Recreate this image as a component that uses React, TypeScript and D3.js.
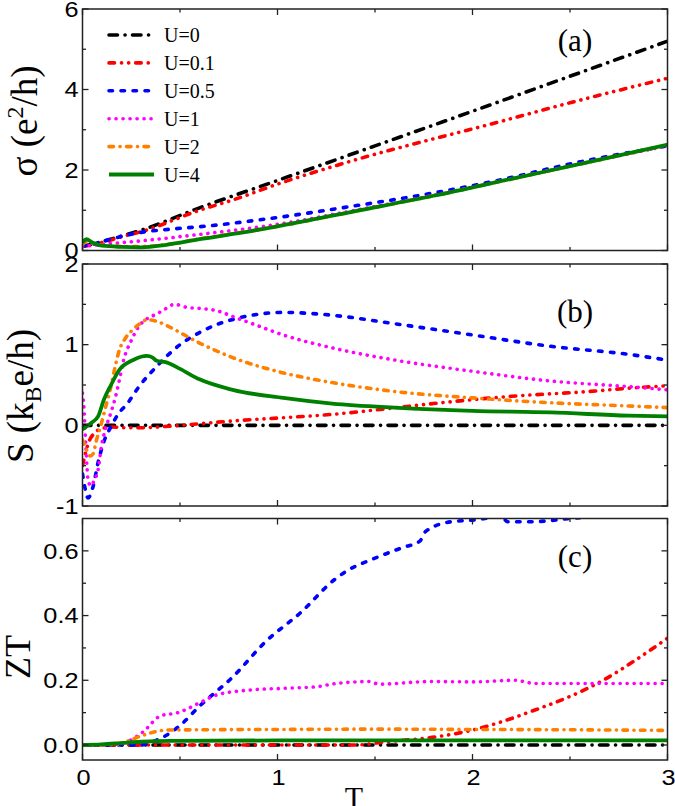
import React, { useRef, useEffect } from 'react';
import * as d3 from 'd3';

type Pt = [number, number];

const width = 675;
const height = 806;

// legend + panel tags
const legendLabels = ['U=0', 'U=0.1', 'U=0.5', 'U=1', 'U=2', 'U=4'];
const panelTags = ['(a)', '(b)', '(c)'];
const tempTicks = [0, 1, 2, 3];
const tempMinor = [0.5, 1.5, 2.5];

// (a) conductance sigma, [T, value]
const sigmaU0: Pt[] = [[0, 0.1], [0.1, 0.22], [0.2, 0.36], [0.31, 0.52], [0.6, 1.06], [1.0, 1.74], [1.5, 2.6], [2.0, 3.46], [2.5, 4.33], [3.0, 5.2]];
const sigmaU01: Pt[] = [[0, 0.1], [0.1, 0.2], [0.2, 0.34], [0.31, 0.48], [0.6, 1.0], [0.78, 1.27], [1.0, 1.65], [1.37, 2.21], [2.14, 3.2], [2.5, 3.67], [3.0, 4.28]];
const sigmaU05: Pt[] = [[0, 0.12], [0.05, 0.15], [0.1, 0.22], [0.2, 0.35], [0.3, 0.45], [0.45, 0.53], [0.6, 0.59], [1.0, 0.82], [1.37, 1.09], [1.8, 1.43], [2.14, 1.75], [2.5, 2.15], [3.0, 2.6]];
const sigmaU1: Pt[] = [[0, 0.1], [0.1, 0.15], [0.3, 0.24], [0.6, 0.4], [1.0, 0.65], [1.4, 1.0], [1.8, 1.37], [2.2, 1.78], [2.6, 2.2], [3.0, 2.6]];
const sigmaU2: Pt[] = [[0, 0.15], [0.02, 0.22], [0.05, 0.18], [0.1, 0.13], [0.2, 0.1], [0.3, 0.1], [0.45, 0.16], [0.6, 0.29], [0.8, 0.44], [1.0, 0.6], [1.4, 0.98], [1.8, 1.36], [2.2, 1.78], [2.6, 2.2], [3.0, 2.62]];
const sigmaU4: Pt[] = [[0, 0.2], [0.02, 0.28], [0.05, 0.2], [0.1, 0.12], [0.2, 0.09], [0.3, 0.08], [0.43, 0.14], [0.6, 0.28], [0.8, 0.43], [1.0, 0.6], [1.4, 0.98], [1.8, 1.36], [2.2, 1.78], [2.6, 2.2], [3.0, 2.63]];

// (b) Seebeck S
const seebeckU0: Pt[] = [[0, 0], [0.5, 0], [1, 0], [1.5, 0], [2, 0], [2.5, 0], [3, 0]];
const seebeckU01: Pt[] = [[0, -0.5], [0.015, -0.35], [0.03, -0.22], [0.06, -0.1], [0.1, -0.04], [0.15, -0.02], [0.22, -0.03], [0.3, -0.03], [0.45, -0.01], [0.6, 0.02], [0.8, 0.06], [1.0, 0.09], [1.3, 0.14], [1.5, 0.19], [1.8, 0.27], [2.2, 0.36], [2.6, 0.42], [2.8, 0.46], [3.0, 0.49]];
const seebeckU05: Pt[] = [[0, -0.6], [0.015, -0.8], [0.028, -0.9], [0.054, -0.76], [0.08, -0.46], [0.11, -0.2], [0.15, 0], [0.18, 0.13], [0.23, 0.27], [0.29, 0.48], [0.38, 0.73], [0.5, 1.0], [0.6, 1.15], [0.69, 1.25], [0.8, 1.33], [0.91, 1.38], [1.03, 1.4], [1.15, 1.39], [1.3, 1.36], [1.6, 1.26], [2.0, 1.12], [2.4, 0.98], [2.8, 0.88], [2.97, 0.82]];
const seebeckU1: Pt[] = [[0, 0.4], [0.008, 0.2], [0.018, -0.3], [0.03, -0.7], [0.045, -0.75], [0.06, -0.68], [0.08, -0.55], [0.097, -0.26], [0.12, -0.03], [0.146, 0.16], [0.17, 0.36], [0.19, 0.57], [0.21, 0.8], [0.25, 1.05], [0.29, 1.23], [0.33, 1.32], [0.38, 1.38], [0.43, 1.45], [0.47, 1.5], [0.54, 1.46], [0.6, 1.45], [0.69, 1.42], [0.78, 1.34], [0.86, 1.27], [1.03, 1.12], [1.28, 0.96], [1.6, 0.81], [2.0, 0.67], [2.4, 0.55], [2.8, 0.48], [3.0, 0.44]];
const seebeckU2: Pt[] = [[0, -0.18], [0.02, -0.3], [0.04, -0.38], [0.055, -0.35], [0.07, -0.2], [0.095, 0.01], [0.12, 0.24], [0.14, 0.42], [0.165, 0.7], [0.19, 0.94], [0.22, 1.08], [0.26, 1.19], [0.3, 1.27], [0.33, 1.31], [0.38, 1.29], [0.43, 1.24], [0.47, 1.19], [0.6, 1.02], [0.77, 0.84], [1.03, 0.65], [1.28, 0.53], [1.6, 0.42], [2.0, 0.34], [2.4, 0.28], [2.8, 0.24], [3.0, 0.22]];
const seebeckU4: Pt[] = [[0, -0.05], [0.045, 0.03], [0.08, 0.11], [0.11, 0.32], [0.146, 0.5], [0.19, 0.69], [0.26, 0.81], [0.3, 0.85], [0.33, 0.86], [0.36, 0.84], [0.38, 0.8], [0.43, 0.78], [0.5, 0.7], [0.6, 0.57], [0.77, 0.44], [1.03, 0.34], [1.28, 0.27], [1.6, 0.22], [2.0, 0.18], [2.4, 0.16], [2.8, 0.12], [3.0, 0.11]];

// (c) figure of merit ZT
const ztU0: Pt[] = [[0, 0], [1, 0], [2, 0], [3, 0]];
const ztU01: Pt[] = [[0, 0], [1.4, 0], [1.56, 0.01], [1.81, 0.025], [2.0, 0.046], [2.15, 0.072], [2.32, 0.108], [2.5, 0.15], [2.67, 0.2], [2.83, 0.26], [3.0, 0.33]];
const ztU05: Pt[] = [[0, 0], [0.3, 0], [0.35, 0.008], [0.43, 0.03], [0.5, 0.06], [0.6, 0.12], [0.77, 0.21], [0.94, 0.32], [1.12, 0.41], [1.29, 0.51], [1.36, 0.54], [1.47, 0.57], [1.64, 0.61], [1.73, 0.63], [1.76, 0.66], [1.89, 0.69], [2.0, 0.695], [2.15, 0.705], [2.18, 0.69], [2.3, 0.69], [2.5, 0.7], [2.67, 0.71], [2.8, 0.72], [3.0, 0.73]];
const ztU1: Pt[] = [[0, 0], [0.15, 0], [0.23, 0.01], [0.31, 0.04], [0.4, 0.09], [0.49, 0.1], [0.6, 0.13], [0.69, 0.155], [0.86, 0.17], [1.03, 0.175], [1.2, 0.18], [1.3, 0.19], [1.47, 0.196], [1.52, 0.188], [1.78, 0.196], [2.0, 0.195], [2.22, 0.2], [2.32, 0.19], [2.6, 0.19], [3.0, 0.19]];
const ztU2: Pt[] = [[0, 0], [0.15, 0.002], [0.23, 0.012], [0.31, 0.03], [0.43, 0.046], [0.6, 0.047], [1.0, 0.048], [1.5, 0.049], [2.0, 0.048], [2.5, 0.047], [3.0, 0.045]];
const ztU4: Pt[] = [[0, 0], [0.1, 0.002], [0.2, 0.006], [0.3, 0.01], [0.45, 0.013], [1.0, 0.014], [2.0, 0.014], [3.0, 0.014]];

const colors = ['#000000', '#ff0000', '#0000ff', '#ff00ff', '#ff8000', '#008000'];
// round caps, so dashes look longer than written
const dashes = ['8.5,7.5,0.1,7.4', '5.5,7,0.1,7,0.1,7', '3.5,8.5', '0.1,6.9', '4.5,6.5,0.1,6.4', 'none'];
const widths = [3.6, 3.6, 3.6, 3.6, 3.6, 3.8];

const panels = [
  { top: 9, bottom: 250.5, domain: [0, 6], major: [0, 2, 4, 6], minor: [1, 3, 5], fmt: (d: number) => String(d), series: [sigmaU0, sigmaU01, sigmaU05, sigmaU1, sigmaU2, sigmaU4], tagY: 51 },
  { top: 264, bottom: 506, domain: [-1, 2], major: [-1, 0, 1, 2], minor: [-0.5, 0.5, 1.5], fmt: (d: number) => String(d), series: [seebeckU0, seebeckU01, seebeckU05, seebeckU1, seebeckU2, seebeckU4], tagY: 322 },
  { top: 518.5, bottom: 760, domain: [-0.0464, 0.7], major: [0, 0.2, 0.4, 0.6], minor: [0.1, 0.3, 0.5], fmt: d3.format('.1f'), series: [ztU0, ztU01, ztU05, ztU1, ztU2, ztU4], tagY: 567 },
];

const margin = { left: 82.5, right: 667.5 };
const sans = '"Liberation Sans", Arial, sans-serif';
const serif = '"Liberation Serif", "Times New Roman", serif';

const App: React.FC = () => {
  const svgRef = useRef<SVGSVGElement>(null);

  useEffect(() => {
    if (!svgRef.current) return;
    const svg = d3.select(svgRef.current);
    svg.selectAll('*').remove();

    const x = d3.scaleLinear().domain([0, 3]).range([margin.left, margin.right]);

    panels.forEach((p, pi) => {
      const y = d3.scaleLinear().domain(p.domain).range([p.bottom, p.top]);
      const g = svg.append('g');
      const clipId = `clip-${pi}`;
      svg.append('clipPath').attr('id', clipId)
        .append('rect')
        .attr('x', margin.left).attr('y', p.top)
        .attr('width', margin.right - margin.left).attr('height', p.bottom - p.top);

      // curves
      const line = d3.line<Pt>().x(d => x(d[0])).y(d => y(d[1])).curve(d3.curveMonotoneX);
      const curves = g.append('g').attr('clip-path', `url(#${clipId})`);
      p.series.forEach((s, i) => {
        curves.append('path')
          .attr('d', line(s))
          .attr('fill', 'none')
          .attr('stroke', colors[i])
          .attr('stroke-width', widths[i])
          .attr('stroke-linecap', i === 5 ? 'butt' : 'round')
          .attr('stroke-dasharray', dashes[i]);
      });

      // frame
      g.append('rect')
        .attr('x', margin.left).attr('y', p.top)
        .attr('width', margin.right - margin.left).attr('height', p.bottom - p.top)
        .attr('fill', 'none').attr('stroke', '#222').attr('stroke-width', 1.5);

      // x ticks, inward on bottom and top
      const xt = [...tempTicks.map(t => ({ t, len: 6 })), ...tempMinor.map(t => ({ t, len: 3.5 }))];
      xt.forEach(({ t, len }) => {
        g.append('line').attr('x1', x(t)).attr('x2', x(t)).attr('y1', p.bottom).attr('y2', p.bottom - len)
          .attr('stroke', '#222').attr('stroke-width', 1.3);
        g.append('line').attr('x1', x(t)).attr('x2', x(t)).attr('y1', p.top).attr('y2', p.top + len)
          .attr('stroke', '#222').attr('stroke-width', 1.3);
      });

      // y ticks, inward on left and right
      const yt = [...p.major.map(v => ({ v, len: 6 })), ...p.minor.map(v => ({ v, len: 3.5 }))];
      yt.forEach(({ v, len }) => {
        g.append('line').attr('x1', margin.left).attr('x2', margin.left + len).attr('y1', y(v)).attr('y2', y(v))
          .attr('stroke', '#222').attr('stroke-width', 1.3);
        g.append('line').attr('x1', margin.right).attr('x2', margin.right - len).attr('y1', y(v)).attr('y2', y(v))
          .attr('stroke', '#222').attr('stroke-width', 1.3);
      });

      // y tick labels
      p.major.forEach(v => {
        g.append('text')
          .attr('transform', `translate(78.5, ${y(v) + 7.8}) scale(1.15, 1)`)
          .attr('text-anchor', 'end')
          .attr('font-family', sans).attr('font-size', 22)
          .text(p.fmt(v));
      });

      // panel tag
      g.append('text')
        .attr('x', 575).attr('y', p.tagY)
        .attr('text-anchor', 'middle')
        .attr('font-family', serif).attr('font-size', 31)
        .text(panelTags[pi]);
    });

    // bottom x tick labels
    tempTicks.forEach(t => {
      svg.append('text')
        .attr('transform', `translate(${x(t) + 1}, 784.5) scale(1.15, 1)`)
        .attr('text-anchor', 'middle')
        .attr('font-family', sans).attr('font-size', 22)
        .text(String(t));
    });

    // legend in panel (a)
    legendLabels.forEach((lab, i) => {
      const ly = 35 + i * 27.9;
      svg.append('line')
        .attr('x1', 109).attr('x2', 154).attr('y1', ly).attr('y2', ly)
        .attr('stroke', colors[i]).attr('stroke-width', widths[i])
        .attr('stroke-linecap', i === 5 ? 'butt' : 'round')
        .attr('stroke-dasharray', dashes[i]);
      svg.append('text')
        .attr('x', 164).attr('y', ly + 7)
        .attr('font-family', serif).attr('font-size', 20)
        .text(lab);
    });

    // axis titles
    const sigmaLabel = svg.append('text')
      .attr('transform', 'translate(37, 121) rotate(-90)')
      .attr('text-anchor', 'middle')
      .attr('font-family', serif).attr('font-size', 37);
    sigmaLabel.append('tspan').text('σ (e');
    sigmaLabel.append('tspan').attr('font-size', 24).attr('dy', -14).text('2');
    sigmaLabel.append('tspan').attr('dy', 14).text('/h)');

    const sLabel = svg.append('text')
      .attr('transform', 'translate(33, 396) rotate(-90)')
      .attr('text-anchor', 'middle')
      .attr('font-family', serif).attr('font-size', 37);
    sLabel.append('tspan').text('S (k');
    sLabel.append('tspan').attr('font-size', 24).attr('dy', 8).text('B');
    sLabel.append('tspan').attr('dy', -8).text('e/h)');

    svg.append('text')
      .attr('transform', 'translate(30, 657) rotate(-90)')
      .attr('text-anchor', 'middle')
      .attr('font-family', serif).attr('font-size', 36)
      .text('ZT');

    svg.append('text')
      .attr('x', 354).attr('y', 807)
      .attr('text-anchor', 'middle')
      .attr('font-family', serif).attr('font-size', 30)
      .text('T');
  }, [svgRef]);

  return (
    <div style={{ position: 'absolute', left: 0, top: 0, width, height, background: '#fff' }}>
      <svg ref={svgRef} width={width} height={height} />
    </div>
  );
};

export default App;
